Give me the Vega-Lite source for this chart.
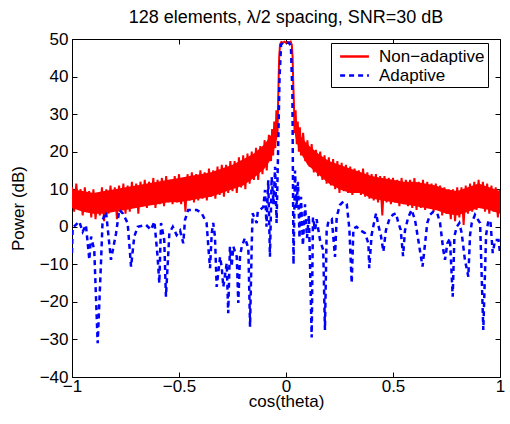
{
  "$schema": "https://vega.github.io/schema/vega-lite/v6.json",
  "width": 428,
  "height": 338,
  "autosize": {"type": "none"},
  "padding": {"left": 72, "top": 39, "right": 10, "bottom": 47},
  "title": {"text": "128 elements, λ/2 spacing, SNR=30 dB", "fontSize": 18, "font": "Liberation Sans", "fontWeight": "normal", "color": "black", "offset": 3, "anchor": "middle"},
  "config": {
    "view": {"stroke": "black", "strokeWidth": 1},
    "axis": {"grid": false, "domainColor": "black", "tickColor": "black", "labelColor": "black", "titleColor": "black", "labelFont": "Liberation Sans", "titleFont": "Liberation Sans", "labelFontSize": 17, "titleFontSize": 17, "titleFontWeight": "normal", "tickSize": -5, "domainWidth": 1, "tickWidth": 1},
    "legend": {"orient": "none", "legendX": 259, "legendY": 4, "fillColor": "white", "strokeColor": "black", "padding": 3, "labelFont": "Liberation Sans", "labelFontSize": 17, "labelColor": "black", "symbolType": "M-1.6,0H1.6", "symbolSize": 324, "symbolStrokeWidth": 2.5, "rowPadding": -4, "labelOffset": 14, "symbolOffset": 10, "title": null}
  },
  "datasets": {
    "band": [
      {"x": -1.00, "lo": 5, "hi": 10, "side": "L"}, {"x": -0.95, "lo": 4, "hi": 9.5, "side": "L"}, {"x": -0.90, "lo": 3.5, "hi": 9, "side": "L"}, {"x": -0.85, "lo": 3.5, "hi": 9.5, "side": "L"}, {"x": -0.80, "lo": 4, "hi": 10, "side": "L"},
      {"x": -0.75, "lo": 4.5, "hi": 10.5, "side": "L"}, {"x": -0.70, "lo": 5, "hi": 11, "side": "L"}, {"x": -0.65, "lo": 5.5, "hi": 11.5, "side": "L"}, {"x": -0.60, "lo": 6, "hi": 12, "side": "L"}, {"x": -0.55, "lo": 6.5, "hi": 12.5, "side": "L"},
      {"x": -0.50, "lo": 6.5, "hi": 13, "side": "L"}, {"x": -0.45, "lo": 7, "hi": 13.5, "side": "L"}, {"x": -0.40, "lo": 7.5, "hi": 14, "side": "L"}, {"x": -0.35, "lo": 8, "hi": 14.5, "side": "L"}, {"x": -0.30, "lo": 9, "hi": 15.5, "side": "L"},
      {"x": -0.25, "lo": 10, "hi": 16.5, "side": "L"}, {"x": -0.20, "lo": 11, "hi": 18, "side": "L"}, {"x": -0.15, "lo": 13, "hi": 19.5, "side": "L"}, {"x": -0.10, "lo": 15.5, "hi": 22, "side": "L"}, {"x": -0.07, "lo": 18, "hi": 24.5, "side": "L"},
      {"x": -0.05, "lo": 21.5, "hi": 27.5, "side": "L"}, {"x": -0.04, "lo": 24, "hi": 30, "side": "L"},
      {"x": 0.04, "lo": 25, "hi": 30, "side": "R"}, {"x": 0.05, "lo": 22.5, "hi": 27, "side": "R"}, {"x": 0.07, "lo": 19.5, "hi": 24, "side": "R"}, {"x": 0.10, "lo": 16.5, "hi": 22, "side": "R"}, {"x": 0.15, "lo": 14, "hi": 19.5, "side": "R"},
      {"x": 0.20, "lo": 11.5, "hi": 17.5, "side": "R"}, {"x": 0.25, "lo": 10, "hi": 16.5, "side": "R"}, {"x": 0.30, "lo": 9, "hi": 15.5, "side": "R"}, {"x": 0.35, "lo": 9, "hi": 14.5, "side": "R"}, {"x": 0.40, "lo": 7.5, "hi": 13.5, "side": "R"},
      {"x": 0.45, "lo": 7, "hi": 13, "side": "R"}, {"x": 0.50, "lo": 6.5, "hi": 12.5, "side": "R"}, {"x": 0.55, "lo": 6, "hi": 12, "side": "R"}, {"x": 0.60, "lo": 5.5, "hi": 12, "side": "R"}, {"x": 0.65, "lo": 5, "hi": 11.5, "side": "R"},
      {"x": 0.70, "lo": 4.5, "hi": 11, "side": "R"}, {"x": 0.75, "lo": 3.5, "hi": 10, "side": "R"}, {"x": 0.80, "lo": 3, "hi": 9.5, "side": "R"}, {"x": 0.85, "lo": 4, "hi": 10.5, "side": "R"}, {"x": 0.90, "lo": 5, "hi": 11.5, "side": "R"},
      {"x": 0.95, "lo": 4.5, "hi": 10.5, "side": "R"}, {"x": 1.00, "lo": 3.5, "hi": 9.5, "side": "R"}
    ],
    "nonadaptive": [
      {"x": -1.00, "y": 10.5}, {"x": -0.99, "y": 4}, {"x": -0.98, "y": 11.5}, {"x": -0.97, "y": 5}, {"x": -0.96, "y": 10}, {"x": -0.95, "y": 3}, {"x": -0.94, "y": 10.5}, {"x": -0.93, "y": 4}, {"x": -0.92, "y": 9.5}, {"x": -0.91, "y": 2.5},
      {"x": -0.90, "y": 10}, {"x": -0.89, "y": 2}, {"x": -0.88, "y": 9}, {"x": -0.87, "y": 3}, {"x": -0.86, "y": 10.5}, {"x": -0.85, "y": 1.5}, {"x": -0.84, "y": 10}, {"x": -0.83, "y": 3.5}, {"x": -0.82, "y": 11}, {"x": -0.81, "y": 4},
      {"x": -0.80, "y": 10.5}, {"x": -0.79, "y": 2}, {"x": -0.78, "y": 11}, {"x": -0.77, "y": 4.5}, {"x": -0.76, "y": 11.5}, {"x": -0.75, "y": 3.5}, {"x": -0.74, "y": 11}, {"x": -0.73, "y": 4}, {"x": -0.72, "y": 12}, {"x": -0.71, "y": 5},
      {"x": -0.70, "y": 11.5}, {"x": -0.69, "y": 3.5}, {"x": -0.68, "y": 12}, {"x": -0.67, "y": 5.5}, {"x": -0.66, "y": 12.5}, {"x": -0.65, "y": 5}, {"x": -0.64, "y": 12}, {"x": -0.63, "y": 6}, {"x": -0.62, "y": 13}, {"x": -0.61, "y": 5},
      {"x": -0.60, "y": 12.5}, {"x": -0.59, "y": 6}, {"x": -0.58, "y": 13}, {"x": -0.57, "y": 5.5}, {"x": -0.56, "y": 13.5}, {"x": -0.55, "y": 6.5}, {"x": -0.54, "y": 12.5}, {"x": -0.53, "y": 6}, {"x": -0.52, "y": 13.5}, {"x": -0.51, "y": 6.5},
      {"x": -0.50, "y": 14}, {"x": -0.49, "y": 6}, {"x": -0.48, "y": 13}, {"x": -0.47, "y": 4}, {"x": -0.46, "y": 14}, {"x": -0.45, "y": 7}, {"x": -0.44, "y": 14.5}, {"x": -0.43, "y": 6.5}, {"x": -0.42, "y": 14}, {"x": -0.41, "y": 7},
      {"x": -0.40, "y": 15}, {"x": -0.39, "y": 7.5}, {"x": -0.38, "y": 14.5}, {"x": -0.37, "y": 7}, {"x": -0.36, "y": 15.5}, {"x": -0.35, "y": 8}, {"x": -0.34, "y": 15}, {"x": -0.33, "y": 7.5}, {"x": -0.32, "y": 16}, {"x": -0.31, "y": 8.5},
      {"x": -0.30, "y": 16.5}, {"x": -0.29, "y": 8}, {"x": -0.28, "y": 16.5}, {"x": -0.27, "y": 9}, {"x": -0.26, "y": 17.5}, {"x": -0.25, "y": 9.5}, {"x": -0.24, "y": 17.5}, {"x": -0.23, "y": 9}, {"x": -0.22, "y": 18.5}, {"x": -0.21, "y": 10.5},
      {"x": -0.20, "y": 19}, {"x": -0.19, "y": 10}, {"x": -0.18, "y": 19.5}, {"x": -0.17, "y": 11.5}, {"x": -0.16, "y": 20}, {"x": -0.15, "y": 12.5}, {"x": -0.14, "y": 21}, {"x": -0.13, "y": 12.5}, {"x": -0.12, "y": 21.5}, {"x": -0.11, "y": 14},
      {"x": -0.10, "y": 23}, {"x": -0.09, "y": 15}, {"x": -0.08, "y": 24.5}, {"x": -0.07, "y": 17.5}, {"x": -0.065, "y": 26}, {"x": -0.06, "y": 19}, {"x": -0.055, "y": 28}, {"x": -0.05, "y": 21}, {"x": -0.045, "y": 31}, {"x": -0.04, "y": 24},
      {"x": -0.037, "y": 33}, {"x": -0.035, "y": 38}, {"x": -0.032, "y": 45}, {"x": -0.028, "y": 48.5}, {"x": -0.022, "y": 49.2}, {"x": -0.015, "y": 49}, {"x": -0.008, "y": 49.3}, {"x": 0, "y": 49}, {"x": 0.008, "y": 49.2}, {"x": 0.015, "y": 49},
      {"x": 0.022, "y": 49.3}, {"x": 0.027, "y": 48.5}, {"x": 0.031, "y": 45}, {"x": 0.034, "y": 38}, {"x": 0.037, "y": 33}, {"x": 0.04, "y": 25}, {"x": 0.045, "y": 31}, {"x": 0.05, "y": 22}, {"x": 0.055, "y": 28}, {"x": 0.06, "y": 20},
      {"x": 0.065, "y": 26.5}, {"x": 0.07, "y": 19}, {"x": 0.08, "y": 25}, {"x": 0.09, "y": 17.5}, {"x": 0.10, "y": 23}, {"x": 0.11, "y": 16}, {"x": 0.12, "y": 22}, {"x": 0.13, "y": 14.5}, {"x": 0.14, "y": 20.5}, {"x": 0.15, "y": 13.5},
      {"x": 0.16, "y": 20}, {"x": 0.17, "y": 12.5}, {"x": 0.18, "y": 19}, {"x": 0.19, "y": 11.5}, {"x": 0.20, "y": 18.5}, {"x": 0.21, "y": 11}, {"x": 0.22, "y": 18}, {"x": 0.23, "y": 10}, {"x": 0.24, "y": 17.5}, {"x": 0.25, "y": 9},
      {"x": 0.26, "y": 17}, {"x": 0.27, "y": 9.5}, {"x": 0.28, "y": 16.5}, {"x": 0.29, "y": 9}, {"x": 0.30, "y": 16}, {"x": 0.31, "y": 8.5}, {"x": 0.32, "y": 15.5}, {"x": 0.33, "y": 9}, {"x": 0.34, "y": 15}, {"x": 0.35, "y": 8.5},
      {"x": 0.36, "y": 15.5}, {"x": 0.37, "y": 8}, {"x": 0.38, "y": 14.5}, {"x": 0.39, "y": 7.5}, {"x": 0.40, "y": 14}, {"x": 0.41, "y": 7}, {"x": 0.42, "y": 14}, {"x": 0.43, "y": 6.5}, {"x": 0.44, "y": 13.5}, {"x": 0.45, "y": 3},
      {"x": 0.46, "y": 13.5}, {"x": 0.47, "y": 6.5}, {"x": 0.48, "y": 13}, {"x": 0.49, "y": 6}, {"x": 0.50, "y": 13}, {"x": 0.51, "y": 6.5}, {"x": 0.52, "y": 12.5}, {"x": 0.53, "y": 5.5}, {"x": 0.54, "y": 13}, {"x": 0.55, "y": 6},
      {"x": 0.56, "y": 12.5}, {"x": 0.57, "y": 5.5}, {"x": 0.58, "y": 12.5}, {"x": 0.59, "y": 5}, {"x": 0.60, "y": 13}, {"x": 0.61, "y": 4.5}, {"x": 0.62, "y": 12}, {"x": 0.63, "y": 5}, {"x": 0.64, "y": 12.5}, {"x": 0.65, "y": 4.5},
      {"x": 0.66, "y": 12}, {"x": 0.67, "y": 5}, {"x": 0.68, "y": 11.5}, {"x": 0.69, "y": 4}, {"x": 0.70, "y": 11.5}, {"x": 0.71, "y": 4.5}, {"x": 0.72, "y": 11}, {"x": 0.73, "y": 3}, {"x": 0.74, "y": 10.5}, {"x": 0.75, "y": 3.5},
      {"x": 0.76, "y": 10}, {"x": 0.77, "y": 2}, {"x": 0.78, "y": 10}, {"x": 0.79, "y": 1.5}, {"x": 0.80, "y": 10.5}, {"x": 0.81, "y": 2.5}, {"x": 0.82, "y": 10.5}, {"x": 0.83, "y": 0.5}, {"x": 0.84, "y": 11}, {"x": 0.85, "y": 3.5},
      {"x": 0.86, "y": 11.5}, {"x": 0.87, "y": 4}, {"x": 0.88, "y": 12}, {"x": 0.89, "y": 4.5}, {"x": 0.90, "y": 12.5}, {"x": 0.91, "y": 5}, {"x": 0.92, "y": 12}, {"x": 0.93, "y": 4}, {"x": 0.94, "y": 11.5}, {"x": 0.95, "y": 3.5},
      {"x": 0.96, "y": 11}, {"x": 0.97, "y": 4}, {"x": 0.98, "y": 10.5}, {"x": 0.99, "y": 2.5}, {"x": 1.00, "y": 10}
    ],
    "adaptive": [
      {"x": -1.0, "y": -7}, {"x": -0.997, "y": -0.3}, {"x": -0.966, "y": 1.4}, {"x": -0.95, "y": -1.3}, {"x": -0.935, "y": 0.5}, {"x": -0.919, "y": -8.8}, {"x": -0.911, "y": -2.6}, {"x": -0.896, "y": -6.2}, {"x": -0.88, "y": -31}, {"x": -0.864, "y": -8.8},
      {"x": -0.857, "y": 1.8}, {"x": -0.841, "y": 4}, {"x": -0.826, "y": -4.4}, {"x": -0.818, "y": -8.8}, {"x": -0.794, "y": -1.7}, {"x": -0.779, "y": 4.5}, {"x": -0.763, "y": 3.6}, {"x": -0.74, "y": 1}, {"x": -0.724, "y": -10.6}, {"x": -0.709, "y": -2.6},
      {"x": -0.693, "y": 0}, {"x": -0.654, "y": 0.5}, {"x": -0.631, "y": -0.8}, {"x": -0.615, "y": 1.4}, {"x": -0.6, "y": -8}, {"x": -0.592, "y": -15}, {"x": -0.584, "y": 1}, {"x": -0.569, "y": -3.5}, {"x": -0.561, "y": -18.6}, {"x": -0.545, "y": -1.7},
      {"x": -0.529, "y": 0}, {"x": -0.511, "y": -2.2}, {"x": -0.495, "y": -1}, {"x": -0.48, "y": -4.4}, {"x": -0.472, "y": 1.8}, {"x": -0.457, "y": 4.5}, {"x": -0.417, "y": 4.5}, {"x": -0.394, "y": 3.6}, {"x": -0.371, "y": 1}, {"x": -0.363, "y": -5.3},
      {"x": -0.355, "y": -11}, {"x": -0.347, "y": -1.7}, {"x": -0.34, "y": 1}, {"x": -0.332, "y": -2.6}, {"x": -0.324, "y": -16}, {"x": -0.308, "y": -8}, {"x": -0.3, "y": -11}, {"x": -0.293, "y": -16}, {"x": -0.277, "y": -9.7}, {"x": -0.27, "y": -23},
      {"x": -0.262, "y": -5.3}, {"x": -0.254, "y": -10.6}, {"x": -0.246, "y": -5.3}, {"x": -0.23, "y": -8}, {"x": -0.223, "y": -20.3}, {"x": -0.215, "y": -8}, {"x": -0.207, "y": -5.3}, {"x": -0.192, "y": -3}, {"x": -0.176, "y": -5.7}, {"x": -0.168, "y": -26.6},
      {"x": -0.16, "y": -4.4}, {"x": -0.156, "y": 3.6}, {"x": -0.137, "y": 1}, {"x": -0.132, "y": 4}, {"x": -0.121, "y": 4.5}, {"x": -0.106, "y": 5.3}, {"x": -0.098, "y": 9.8}, {"x": -0.091, "y": 0}, {"x": -0.083, "y": 12.4}, {"x": -0.075, "y": -8},
      {"x": -0.067, "y": 13.3}, {"x": -0.058, "y": 6}, {"x": -0.051, "y": 16}, {"x": -0.044, "y": 1}, {"x": -0.037, "y": 20}, {"x": -0.03, "y": 40}, {"x": -0.023, "y": 48.5}, {"x": -0.014, "y": 49}, {"x": 0, "y": 49}, {"x": 0.014, "y": 49},
      {"x": 0.023, "y": 48}, {"x": 0.03, "y": 35}, {"x": 0.035, "y": -10}, {"x": 0.042, "y": 15}, {"x": 0.049, "y": 5}, {"x": 0.056, "y": 12}, {"x": 0.063, "y": -3}, {"x": 0.07, "y": 8}, {"x": 0.079, "y": -5}, {"x": 0.089, "y": 6},
      {"x": 0.098, "y": -3}, {"x": 0.107, "y": 3}, {"x": 0.12, "y": -29.5}, {"x": 0.126, "y": 2.5}, {"x": 0.136, "y": -0.8}, {"x": 0.143, "y": 2}, {"x": 0.159, "y": -3.5}, {"x": 0.174, "y": -6.2}, {"x": 0.182, "y": -27.5}, {"x": 0.19, "y": -1},
      {"x": 0.198, "y": 1.4}, {"x": 0.214, "y": 2}, {"x": 0.229, "y": -8}, {"x": 0.237, "y": 2.7}, {"x": 0.252, "y": 5.8}, {"x": 0.268, "y": 6.7}, {"x": 0.284, "y": 6}, {"x": 0.296, "y": -0.5}, {"x": 0.307, "y": -15}, {"x": 0.315, "y": -0.5},
      {"x": 0.33, "y": 0}, {"x": 0.346, "y": -0.9}, {"x": 0.369, "y": -1.7}, {"x": 0.385, "y": -4.4}, {"x": 0.389, "y": -11}, {"x": 0.4, "y": -2.2}, {"x": 0.411, "y": 1}, {"x": 0.421, "y": 3.6}, {"x": 0.431, "y": 0.5}, {"x": 0.443, "y": -2.2},
      {"x": 0.455, "y": -6.6}, {"x": 0.467, "y": -0.9}, {"x": 0.483, "y": 2}, {"x": 0.499, "y": 3.2}, {"x": 0.514, "y": 3.6}, {"x": 0.525, "y": 1}, {"x": 0.536, "y": -0.8}, {"x": 0.547, "y": -7.8}, {"x": 0.556, "y": -1}, {"x": 0.571, "y": 2.5},
      {"x": 0.587, "y": 4.5}, {"x": 0.603, "y": 1.8}, {"x": 0.618, "y": -3.5}, {"x": 0.638, "y": -10.6}, {"x": 0.65, "y": -4.4}, {"x": 0.66, "y": 1}, {"x": 0.673, "y": 3.2}, {"x": 0.688, "y": 4}, {"x": 0.707, "y": 3.6}, {"x": 0.72, "y": 1},
      {"x": 0.735, "y": -6.2}, {"x": 0.743, "y": -8.8}, {"x": 0.754, "y": -4.4}, {"x": 0.766, "y": -3.1}, {"x": 0.779, "y": -18.6}, {"x": 0.787, "y": -2.5}, {"x": 0.798, "y": 0}, {"x": 0.81, "y": 1}, {"x": 0.821, "y": -1.7}, {"x": 0.836, "y": -8.8},
      {"x": 0.852, "y": -13.3}, {"x": 0.86, "y": -2.2}, {"x": 0.868, "y": 1}, {"x": 0.883, "y": 3.2}, {"x": 0.907, "y": 1}, {"x": 0.922, "y": -27.5}, {"x": 0.935, "y": -2.2}, {"x": 0.946, "y": 1.8}, {"x": 0.956, "y": 1}, {"x": 0.966, "y": -7},
      {"x": 0.977, "y": -3.5}, {"x": 0.993, "y": -3.5}, {"x": 1.0, "y": -7}
    ]
  },
  "layer": [
    {
      "data": {"name": "band"},
      "mark": {"type": "area", "color": "#ff0000", "opacity": 1, "clip": true},
      "encoding": {
        "x": {"field": "x", "type": "quantitative", "scale": {"domain": [-1, 1], "nice": false, "zero": false}, "axis": null},
        "y": {"field": "lo", "type": "quantitative", "scale": {"domain": [-40, 50], "nice": false, "zero": false}, "axis": null},
        "y2": {"field": "hi"},
        "detail": {"field": "side", "type": "nominal"}
      }
    },
    {
      "data": {"name": "nonadaptive"},
      "mark": {"type": "line", "strokeWidth": 2, "clip": true},
      "encoding": {
        "x": {"field": "x", "type": "quantitative", "axis": {"orient": "bottom", "values": [-1, -0.5, 0, 0.5, 1], "format": "~g", "title": "cos(theta)", "labelPadding": 6, "titlePadding": -1, "labelFlush": false}},
        "y": {"field": "y", "type": "quantitative", "axis": {"orient": "left", "values": [-40, -30, -20, -10, 0, 10, 20, 30, 40, 50], "title": "Power (dB)", "labelPadding": 9, "titlePadding": 12, "labelFlush": false}},
        "color": {"datum": "Non−adaptive", "type": "nominal", "scale": {"domain": ["Non−adaptive", "Adaptive"], "range": ["#ff0000", "#0000ff"]}},
        "strokeDash": {"datum": "Non−adaptive", "type": "nominal", "scale": {"domain": ["Non−adaptive", "Adaptive"], "range": [[1, 0], [5, 4]]}}
      }
    },
    {
      "data": {"name": "adaptive"},
      "mark": {"type": "line", "strokeWidth": 2.5, "clip": true},
      "encoding": {
        "x": {"field": "x", "type": "quantitative", "axis": {"orient": "top", "values": [-1, -0.5, 0, 0.5, 1], "labels": false, "title": null, "domain": false}},
        "y": {"field": "y", "type": "quantitative", "axis": {"orient": "right", "values": [-40, -30, -20, -10, 0, 10, 20, 30, 40, 50], "labels": false, "title": null, "domain": false}},
        "color": {"datum": "Adaptive", "type": "nominal"},
        "strokeDash": {"datum": "Adaptive", "type": "nominal"}
      }
    }
  ],
  "resolve": {"axis": {"x": "independent", "y": "independent"}}
}
